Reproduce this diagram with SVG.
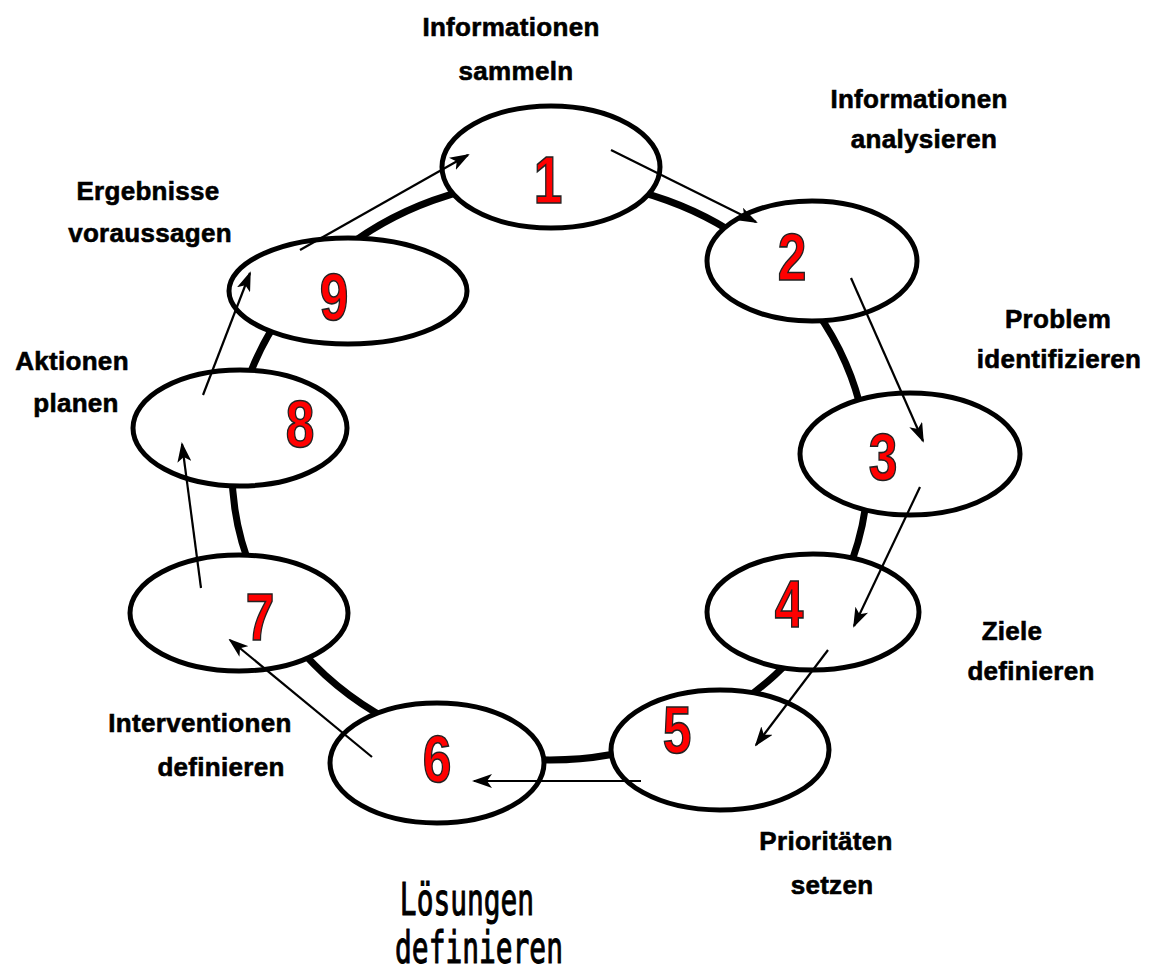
<svg xmlns="http://www.w3.org/2000/svg" width="1154" height="973" viewBox="0 0 1154 973">
<style>
.ring{fill:none;stroke:#000;stroke-width:7}
.node{fill:#fff;stroke:#000;stroke-width:5}
.num{font-family:"Liberation Sans",Arial,sans-serif;font-weight:bold;font-size:66px;fill:#ff0000;stroke:#222;stroke-width:1.6;text-anchor:middle}
.lbl{font-family:"Liberation Sans",Arial,sans-serif;font-weight:bold;font-size:26px;fill:#000;stroke:#000;stroke-width:0.6;text-anchor:middle;letter-spacing:0.3px}
.mono{font-family:"DejaVu Sans Mono","Liberation Mono",monospace;font-size:45px;fill:#000;stroke:#000;stroke-width:1.1;text-anchor:middle}
.arr{fill:none;stroke:#000;stroke-width:2.2;marker-end:url(#ah)}
</style>
<defs>
<marker id="ah" viewBox="0 0 20 14" refX="18" refY="7" markerWidth="20" markerHeight="14" markerUnits="userSpaceOnUse" orient="auto">
<path d="M0,0 L20,7 L0,14 L5,7 Z" fill="#000"/>
</marker>
</defs>
<rect width="1154" height="973" fill="#fff"/>
<g id="ring">
<ellipse class="ring" cx="550" cy="470" rx="318" ry="290"/>
</g>
<g id="node1"><ellipse class="node" cx="551" cy="167" rx="109" ry="61"/><text class="num" transform="translate(548,203) scale(0.78,1)">1</text>
<text class="lbl" x="511" y="36">Informationen</text><text class="lbl" x="516" y="80">sammeln</text></g>
<g id="node2"><ellipse class="node" cx="812" cy="261" rx="105" ry="60"/><text class="num" transform="translate(792,280) scale(0.78,1)">2</text>
<text class="lbl" x="919" y="108">Informationen</text><text class="lbl" x="924" y="148">analysieren</text></g>
<g id="node3"><ellipse class="node" cx="910" cy="454" rx="110" ry="61"/><text class="num" transform="translate(883,480) scale(0.78,1)">3</text>
<text class="lbl" x="1058" y="328">Problem</text><text class="lbl" x="1059" y="368">identifizieren</text></g>
<g id="node4"><ellipse class="node" cx="813" cy="612" rx="106" ry="58"/><text class="num" transform="translate(789,627) scale(0.78,1)">4</text>
<text class="lbl" x="1012" y="640">Ziele</text><text class="lbl" x="1031" y="680">definieren</text></g>
<g id="node5"><ellipse class="node" cx="720" cy="750" rx="109" ry="60"/><text class="num" transform="translate(677,753) scale(0.78,1)">5</text>
<text class="lbl" x="826" y="850">Prioritäten</text><text class="lbl" x="832" y="894">setzen</text></g>
<g id="node6"><ellipse class="node" cx="437" cy="763" rx="107" ry="60"/><text class="num" transform="translate(437,782) scale(0.78,1)">6</text>
<text class="mono" transform="translate(467,915) scale(0.62,1)">Lösungen</text><text class="mono" transform="translate(479,963) scale(0.62,1)">definieren</text></g>
<g id="node7"><ellipse class="node" cx="239" cy="613" rx="109" ry="58"/><text class="num" transform="translate(260,640) scale(0.78,1)">7</text>
<text class="lbl" x="200" y="732">Interventionen</text><text class="lbl" x="221" y="776">definieren</text></g>
<g id="node8"><ellipse class="node" cx="240" cy="428" rx="107" ry="58"/><text class="num" transform="translate(300,447) scale(0.78,1)">8</text>
<text class="lbl" x="72" y="370">Aktionen</text><text class="lbl" x="76" y="412">planen</text></g>
<g id="node9"><ellipse class="node" cx="348" cy="291" rx="119" ry="53"/><text class="num" transform="translate(334,320) scale(0.78,1)">9</text>
<text class="lbl" x="148" y="200">Ergebnisse</text><text class="lbl" x="150" y="242">voraussagen</text></g>
<g id="connectors">
<line class="arr" x1="300" y1="250" x2="468" y2="155"/>
<line class="arr" x1="611" y1="150" x2="756" y2="222"/>
<line class="arr" x1="851" y1="278" x2="923" y2="441"/>
<line class="arr" x1="920" y1="487" x2="854" y2="626"/>
<line class="arr" x1="828" y1="650" x2="756" y2="745"/>
<line class="arr" x1="641" y1="781" x2="474" y2="781"/>
<line class="arr" x1="372" y1="757" x2="230" y2="640"/>
<line class="arr" x1="201" y1="588" x2="182" y2="444"/>
<line class="arr" x1="203" y1="395" x2="250" y2="273"/>
</g>
</svg>
